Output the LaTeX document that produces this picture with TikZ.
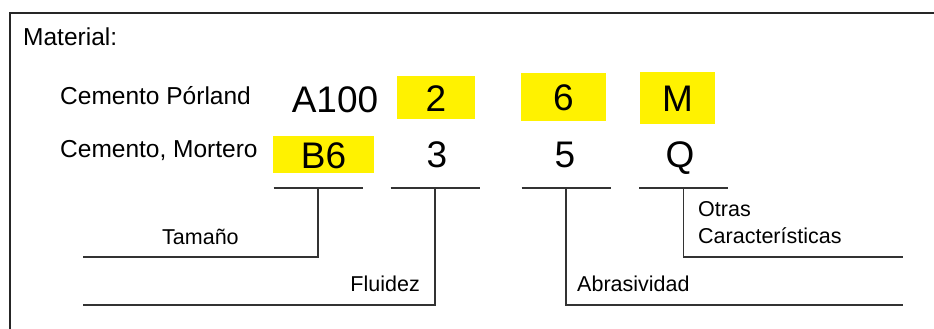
\documentclass[tikz,border=0pt]{standalone}
\usepackage{fontspec}
\setmainfont{Liberation Sans}
\definecolor{hlyellow}{RGB}{255,242,0}

\begin{document}
\begin{tikzpicture}[x=1pt, y=-1pt,
	txt/.style={inner sep=0pt, font=\fontsize{24.5}{29}\selectfont},
	lbl/.style={inner sep=0pt, font=\fontsize{21.5}{26.7}\selectfont},
	code/.style={inner sep=0pt, font=\fontsize{37}{44}\selectfont, text height=27pt, text depth=0pt},
	hl/.style={code, fill=hlyellow},
	lead/.style={line width=1.2pt, draw=black!80},
	frame/.style={line width=1.6pt, draw=black!85}]
	\useasboundingbox (0,0) rectangle (934,329);
	\draw[frame] (10,329) -- (10,13) -- (934,13);

	\node[txt, anchor=base west] (mat) at (23,46) {Material:};
	\node[txt, anchor=base west] (port) at (60,104) {Cemento Pórland};
	\node[txt, anchor=base west] (mort) at (60,157) {Cemento, Mortero};

	\node[code, anchor=base] (a100) at (335,112) {A100};
	\node[hl, minimum width=78pt, minimum height=43pt] (c2) at (436,97.5) {2};
	\node[hl, minimum width=85pt, minimum height=48pt] (c6) at (563.5,97) {6};
	\node[hl, minimum width=75pt, minimum height=52pt] (cm) at (677.5,98) {M};

	\node[hl, minimum width=101pt, minimum height=37pt] (b6) at (323.5,154.5) {B6};
	\node[code, anchor=base] (c3) at (437,167) {3};
	\node[code, anchor=base] (c5) at (565,167) {5};
	\node[code, anchor=base] (cq) at (680,167) {Q};

	\foreach \n/\x/\y/\e in {tam/318/257/83, flu/435/305/83, abr/566/305/903, otr/683.5/257/903} {
		\coordinate (\n-l) at (\x-44.5,188);
		\coordinate (\n-r) at (\x+44.5,188);
		\coordinate (\n-m) at (\x,188);
		\coordinate (\n-e) at (\e,\y);
		\draw[lead] (\n-l) -- (\n-r) (\n-m) |- (\n-e);
	}

	\node[lbl, anchor=base west] (tam) at (162,244) {Tamaño};
	\node[lbl, anchor=base east] (flu) at (420,291) {Fluidez};
	\node[lbl, anchor=base west] (abr) at (577,291) {Abrasividad};
	\node[lbl, anchor=base west, align=left] (otr) at (698,243.5) {Otras\\Características};
\end{tikzpicture}
\end{document}
